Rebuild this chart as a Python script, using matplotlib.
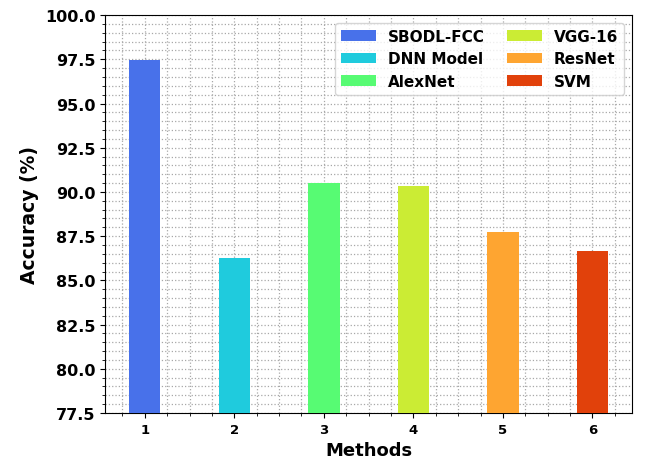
import matplotlib
matplotlib.use('Agg')
import matplotlib.pyplot as plt
from matplotlib.ticker import AutoMinorLocator

# accuracy of each method
methods = ['SBODL-FCC', 'DNN Model', 'AlexNet', 'VGG-16', 'ResNet', 'SVM']
positions = [1, 2, 3, 4, 5, 6]
accuracy = [97.48, 86.24, 90.50, 90.33, 87.72, 86.68]
colors = ['#4871ea', '#1fcbdd', '#57fb73', '#cbec34', '#fea531', '#e1410b']

fig = plt.figure(figsize=(6.45, 4.6), dpi=100)
ax = fig.add_axes([0.163, 0.1, 0.817, 0.865])

for p, a, c, m in zip(positions, accuracy, colors, methods):
    ax.bar(p, a, width=0.35, color=c, label=m, zorder=3)

ax.set_ylim(77.5, 100)
ax.set_xticks(positions)
ax.xaxis.set_minor_locator(AutoMinorLocator(4))
ax.yaxis.set_minor_locator(AutoMinorLocator(5))
ax.grid(which='both', linestyle=':', color='#a8a8a8', linewidth=0.9, zorder=0)

for lab in ax.get_yticklabels():
    lab.set_fontweight('bold')
    lab.set_fontsize(11.5)
for lab in ax.get_xticklabels():
    lab.set_fontweight('bold')
    lab.set_fontsize(9.5)

ax.set_xlabel('Methods', fontsize=13, fontweight='bold', labelpad=4)
ax.set_ylabel('Accuracy (%)', fontsize=13.5, fontweight='bold')

ax.legend(loc='upper right', ncol=2, prop={'weight': 'bold', 'size': 11},
          columnspacing=1.4, handlelength=2.3, labelspacing=0.5)

plt.savefig('out.png', dpi=100)
